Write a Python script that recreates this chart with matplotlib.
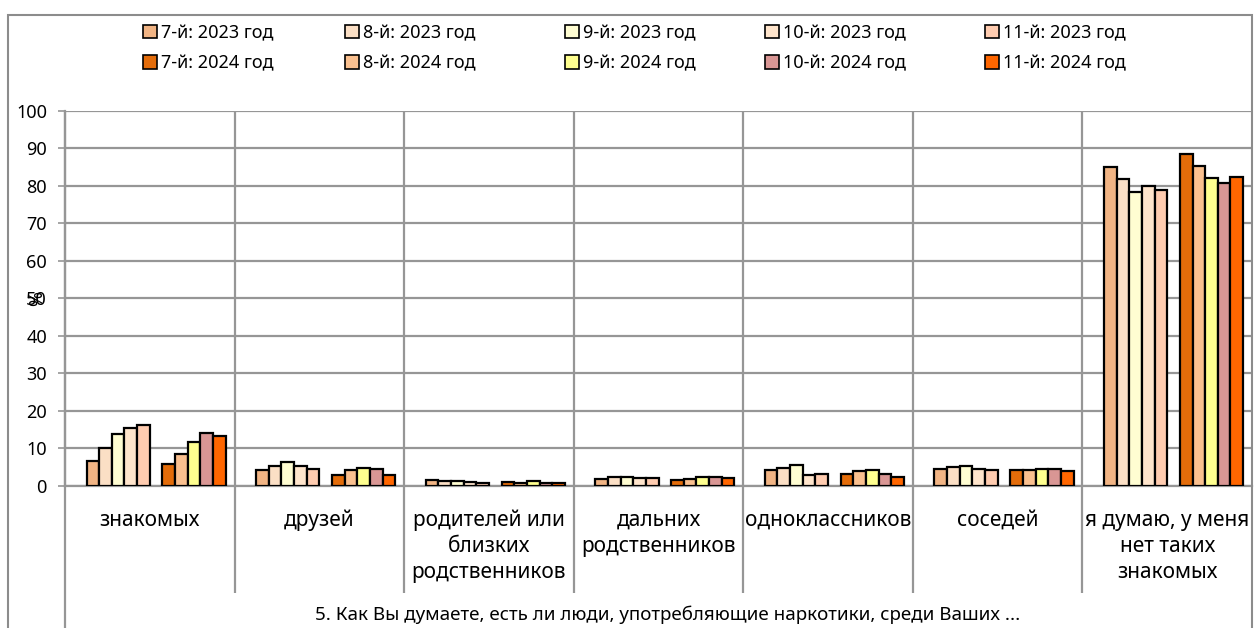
import numpy as np
import matplotlib.pyplot as plt
from matplotlib.patches import Rectangle, Patch

plt.rcParams['font.family'] = ['Noto Sans', 'DejaVu Sans']

# данные
categories = ['знакомых', 'друзей', 'родителей или\nблизких\nродственников',
              'дальних\nродственников', 'одноклассников', 'соседей',
              'я думаю, у меня\nнет таких\nзнакомых']
grades = ['7-й', '8-й', '9-й', '10-й', '11-й']

v2023 = {
    '7-й':  [6.7, 4.3, 1.6, 1.8, 4.3, 4.5, 85.0],
    '8-й':  [10.0, 5.2, 1.3, 2.3, 4.9, 5.0, 81.7],
    '9-й':  [13.9, 6.3, 1.3, 2.3, 5.6, 5.2, 78.2],
    '10-й': [15.5, 5.4, 1.1, 2.0, 2.8, 4.6, 79.8],
    '11-й': [16.2, 4.6, 0.9, 2.0, 3.2, 4.2, 78.9],
}
v2024 = {
    '7-й':  [5.8, 2.9, 1.1, 1.6, 3.2, 4.2, 88.3],
    '8-й':  [8.5, 4.2, 0.9, 1.9, 4.1, 4.2, 85.1],
    '9-й':  [11.7, 4.7, 1.3, 2.3, 4.3, 4.6, 81.9],
    '10-й': [14.1, 4.6, 0.9, 2.3, 3.2, 4.6, 80.7],
    '11-й': [13.3, 2.9, 0.7, 2.0, 2.4, 4.0, 82.4],
}

col2023 = ['#F1B484', '#FBDFC5', '#FFFDD2', '#FFE5CC', '#FFCCB0']
col2024 = ['#E36C0A', '#FAC08F', '#FFFF8F', '#D99694', '#FF6600']

fig = plt.figure(figsize=(12.59, 6.28), dpi=100)
ax = fig.add_axes([65/1259, 1-486/628, 1187/1259, 375.5/628])

n = len(categories)
x = np.arange(n)
w = 12.65/169.6          # ширина столбца в долях группы
m = (1 - 12*w)/2         # поле слева/справа
edge = dict(edgecolor='black', linewidth=1.6, zorder=3)

# левые края колонок легенды, px
leg_x = [143, 345, 565, 765, 985]

for k, g in enumerate(grades):
    pos1 = x - 0.5 + m + (1 + k + 0.5)*w
    pos2 = x - 0.5 + m + (7 + k + 0.5)*w
    ax.bar(pos1, v2023[g], w, color=col2023[k], **edge)
    ax.bar(pos2, v2024[g], w, color=col2024[k], **edge)
    hh = [Patch(facecolor=col2023[k], edgecolor='black', lw=1.2, label=g + ': 2023 год'),
          Patch(facecolor=col2024[k], edgecolor='black', lw=1.2, label=g + ': 2024 год')]
    fig.legend(handles=hh, loc='upper left', bbox_to_anchor=(leg_x[k]/1259, 1-24/628),
               frameon=False, fontsize=13, handlelength=0.75, handleheight=0.75,
               handletextpad=0.25, labelspacing=0.68, borderpad=0, borderaxespad=0)

ax.set_xlim(-0.5, n - 0.5)
ax.set_ylim(0, 100)
ax.set_yticks(range(0, 101, 10))
ax.yaxis.grid(True, color='#969696', lw=1.6, zorder=0)
ax.tick_params(axis='y', length=5, width=1.2, color='#969696', pad=8, labelsize=13)
ax.set_xticks(x, categories)
ax.tick_params(axis='x', length=0, pad=17, labelsize=15)
for t in ax.get_xticklabels():
    t.set_linespacing(1.32)
    t.set_verticalalignment('top')
for s in ['top', 'right']:
    ax.spines[s].set_visible(False)
for s in ['left', 'bottom']:
    ax.spines[s].set_color('#969696')
    ax.spines[s].set_linewidth(1.6)

# вертикальные разделители групп (через область графика и подписи)
tr = ax.get_xaxis_transform()
ax.vlines(x[1:] - 0.5, -0.284, 1, transform=tr, colors='#969696', lw=1.6, clip_on=False, zorder=1)
ax.vlines([-0.5], -0.5, 1, transform=tr, colors='#969696', lw=1.6, clip_on=False, zorder=1)

ax.set_ylabel('%', fontsize=13, fontweight='bold')
ax.yaxis.set_label_coords(-0.016, 0.5)

fig.text(668/1259, 1-615/628, '5. Как Вы думаете, есть ли люди, употребляющие наркотики, среди Ваших ...',
         ha='center', va='center', fontsize=13.5)

# рамка диаграммы
fig.patches.append(Rectangle((8/1259, -0.1), 1244/1259, 1.1 - 15/628, transform=fig.transFigure,
                             fill=False, edgecolor='#8c8c8c', lw=1.5))

fig.savefig('out.png', dpi=100)
